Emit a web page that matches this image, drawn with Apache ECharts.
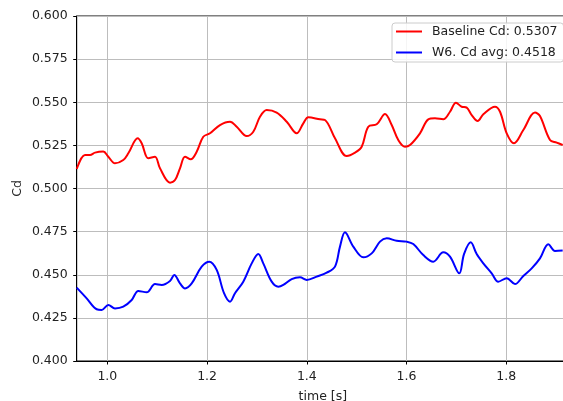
<!DOCTYPE html>
<html>
<head>
<meta charset="utf-8">
<script src="https://cdn.jsdelivr.net/npm/echarts@6/dist/echarts.min.js"></script>
<style>
html,body{margin:0;padding:0;background:#fff;}
#chart{width:563px;height:401px;}
</style>
</head>
<body>
<div id="chart"></div>
<script>
// ---- data ----
const seriesNames = ['Baseline Cd: 0.5307', 'W6. Cd avg: 0.4518'];
const xTicks = [1.0, 1.2, 1.4, 1.6, 1.8];
const yTicks = [0.400, 0.425, 0.450, 0.475, 0.500, 0.525, 0.550, 0.575, 0.600];

const baselineTime = [0.9386,0.9552,0.9653,0.9753,0.9919,1.0020,1.0154,1.0320,1.0421,1.0609,1.0689,1.0822,1.0956,1.1056,1.1257,1.1357,1.1457,1.1558,1.1672,1.1792,1.1924,1.2059,1.2259,1.2460,1.2594,1.2794,1.2927,1.3061,1.3196,1.3396,1.3597,1.3797,1.3930,1.4030,1.4264,1.4364,1.4565,1.4799,1.4966,1.5100,1.5233,1.5401,1.5568,1.5702,1.5834,1.5968,1.6069,1.6269,1.6436,1.6570,1.6736,1.6871,1.6991,1.7105,1.7206,1.7306,1.7426,1.7539,1.7773,1.7874,1.8008,1.8154,1.8341,1.8575,1.8675,1.8876,1.9010,1.9130];
const baselineCd = [0.5113,0.5194,0.5194,0.5208,0.5214,0.5184,0.5146,0.5165,0.5204,0.5291,0.5262,0.5175,0.5184,0.5117,0.5034,0.5049,0.5117,0.5184,0.5169,0.5213,0.5300,0.5320,0.5368,0.5387,0.5358,0.5304,0.5329,0.5416,0.5455,0.5440,0.5387,0.5320,0.5378,0.5413,0.5401,0.5397,0.5291,0.5188,0.5208,0.5242,0.5358,0.5372,0.5432,0.5368,0.5281,0.5242,0.5252,0.5320,0.5401,0.5407,0.5401,0.5445,0.5497,0.5474,0.5469,0.5426,0.5391,0.5430,0.5474,0.5445,0.5320,0.5262,0.5339,0.5440,0.5420,0.5281,0.5266,0.5252];

const w6Time = [0.9386,0.9586,0.9787,0.9887,1.0020,1.0154,1.0320,1.0489,1.0621,1.0790,1.0956,1.1090,1.1257,1.1343,1.1457,1.1558,1.1692,1.1892,1.2045,1.2193,1.2340,1.2460,1.2560,1.2726,1.2895,1.3027,1.3127,1.3296,1.3428,1.3528,1.3697,1.3863,1.3998,1.4198,1.4399,1.4565,1.4665,1.4765,1.4932,1.5133,1.5301,1.5467,1.5602,1.5802,1.6003,1.6135,1.6336,1.6536,1.6736,1.6871,1.7057,1.7152,1.7286,1.7406,1.7539,1.7707,1.7839,1.8008,1.8174,1.8341,1.8509,1.8675,1.8842,1.8976,1.9130];
const w6Cd = [0.4425,0.4363,0.4300,0.4296,0.4325,0.4305,0.4315,0.4354,0.4406,0.4398,0.4446,0.4441,0.4464,0.4499,0.4450,0.4421,0.4450,0.4547,0.4576,0.4528,0.4393,0.4344,0.4393,0.4460,0.4566,0.4620,0.4566,0.4460,0.4431,0.4441,0.4475,0.4485,0.4470,0.4489,0.4512,0.4547,0.4663,0.4746,0.4663,0.4601,0.4624,0.4692,0.4711,0.4697,0.4692,0.4678,0.4614,0.4576,0.4630,0.4605,0.4508,0.4620,0.4688,0.4620,0.4566,0.4508,0.4460,0.4480,0.4446,0.4493,0.4537,0.4595,0.4677,0.4638,0.4640];

const xMin = 0.9386, xMax = 1.9257;

function pairs(t, v){ return t.map((x,i)=>[x, v[i]]); }

const chart = echarts.init(document.getElementById('chart'), null, {renderer:'canvas'});
const FONT = 'DejaVu Sans';
chart.setOption({
  animation: false,
  backgroundColor: '#ffffff',
  textStyle: {fontFamily: FONT},
  grid: {left: 76.7, top: 16, width: 492.3, height: 345, outerBoundsMode: 'none', containLabel: false,
         show: true, borderColor: '#000', borderWidth: 1, backgroundColor: 'transparent'},
  legend: {
    orient: 'vertical', left: 392, top: 23,
    padding: [2, 6, 3, 3], itemGap: 8, itemWidth: 26, itemHeight: 14,
    backgroundColor: 'rgba(255,255,255,0.85)', borderColor: '#cccccc', borderWidth: 1, borderRadius: 3,
    itemStyle: {opacity: 0},
    lineStyle: {width: 2},
    textStyle: {fontFamily: FONT, fontSize: 12.5, color: '#222', padding: [0,0,0,5]},
    data: seriesNames
  },
  xAxis: {
    type: 'value', min: xMin, max: xMax,
    name: 'time [s]', nameLocation: 'middle', nameGap: 29,
    nameTextStyle: {fontFamily: FONT, fontSize: 12.5, color: '#222'},
    axisLine: {show: true, lineStyle: {color: '#000', width: 1}},
    axisTick: {show: true, length: 3.5, lineStyle: {color: '#000'}, customValues: xTicks},
    axisLabel: {fontFamily: FONT, fontSize: 12.5, color: '#222', margin: 9, customValues: xTicks, formatter: v => v.toFixed(1)},
    splitLine: {show: true, lineStyle: {color: '#bdbdbd', width: 1}}
  },
  yAxis: {
    type: 'value', min: 0.4, max: 0.6, interval: 0.025,
    name: 'Cd', nameLocation: 'middle', nameGap: 52, nameRotate: 90, nameMoveOverlap: false,
    nameTextStyle: {fontFamily: FONT, fontSize: 12.5, color: '#222'},
    axisLine: {show: true, lineStyle: {color: '#000', width: 1}},
    axisTick: {show: true, length: 3.5, lineStyle: {color: '#000'}},
    axisLabel: {fontFamily: FONT, fontSize: 12.5, color: '#222', margin: 9, formatter: v => v.toFixed(3)},
    splitLine: {show: true, lineStyle: {color: '#bdbdbd', width: 1}}
  },
  series: [
    {name: seriesNames[0], type: 'line', data: pairs(baselineTime, baselineCd), showSymbol: false, symbol: 'none', smooth: 0.35,
     lineStyle: {color: '#ff0000', width: 2}, itemStyle: {color: '#ff0000'}, clip: true},
    {name: seriesNames[1], type: 'line', data: pairs(w6Time, w6Cd), showSymbol: false, symbol: 'none', smooth: 0.35,
     lineStyle: {color: '#0000ff', width: 2}, itemStyle: {color: '#0000ff'}, clip: true}
  ]
});
</script>
</body>
</html>
